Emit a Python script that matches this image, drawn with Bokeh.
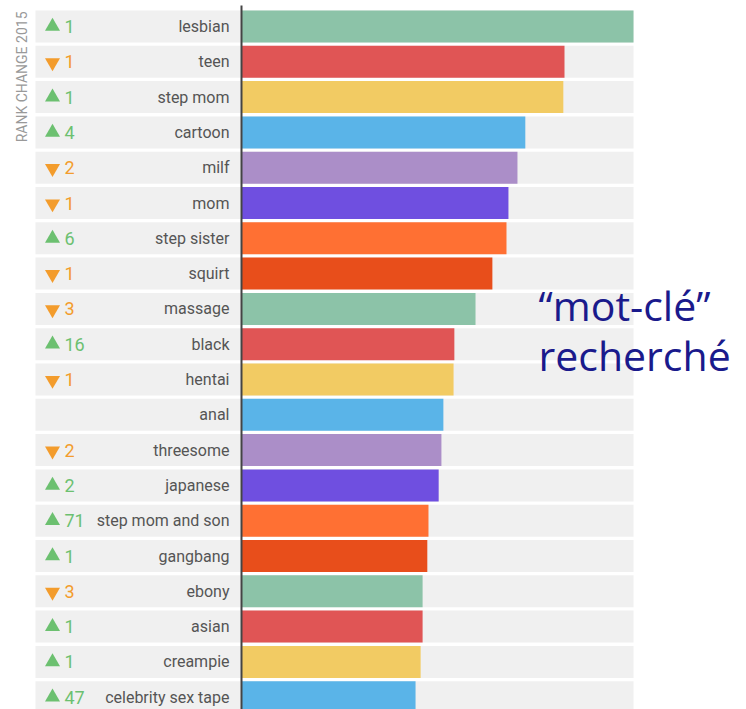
import math
from bokeh.plotting import figure
from bokeh.models import ColumnDataSource, Range1d
from bokeh.core.properties import value
from bokeh.embed import file_html
from bokeh.resources import INLINE

terms = ["lesbian", "teen", "step mom", "cartoon", "milf", "mom", "step sister",
         "squirt", "massage", "black", "hentai", "anal", "threesome", "japanese",
         "step mom and son", "gangbang", "ebony", "asian", "creampie",
         "celebrity sex tape"]
popularity = [100, 82.4, 82.1, 72.4, 70.4, 68.1, 67.6, 64.0, 59.7, 54.3, 54.1,
              51.5, 51.0, 50.3, 47.7, 47.4, 46.2, 46.2, 45.7, 44.4]
rank_change = [1, -1, 1, 4, -2, -1, 6, -1, -3, 16, -1, 0, -2, 2, 71, 1, -3, 1, 1, 47]
palette = ["#8cc3a8", "#e05555", "#f2cb63", "#5ab4e8", "#ab8ec8", "#6f4fe0",
           "#ff7033", "#e84e1b"]
axis_title = "RANK CHANGE 2015"
note_lines = ["\u201cmot-cl\u00e9\u201d", "recherch\u00e9"]

# pixel <-> data helpers (layout only)
W, H = 746, 709
ZERO_PX = 241
K = 100 / 392.0
PITCH = 35.3
ROW0 = 26.0

def xd(px):
    return (px - ZERO_PX) * K

def yd(py):
    return (py - ROW0) / PITCH

n = len(terms)
ys = list(range(n))
colors = [palette[i % len(palette)] for i in range(n)]

p = figure(width=W, height=H, output_backend="svg", toolbar_location=None,
           x_range=Range1d(xd(0), xd(W)), y_range=Range1d(yd(H), yd(0)),
           min_border=0, outline_line_color=None, background_fill_color="white",
           border_fill_color="white")
p.axis.visible = False
p.grid.visible = False

row_h = 32 / PITCH
# grey row backgrounds
p.hbar(y=ys, left=xd(35), right=100, height=row_h, fill_color="#f0f0f0",
       line_color=None)

src = ColumnDataSource(dict(y=ys, v=popularity, c=colors, t=terms))
p.hbar(y="y", left=0, right="v", height=row_h, fill_color="c", line_color=None,
       source=src)

# axis line
p.segment(x0=[0], y0=[yd(5)], x1=[0], y1=[yd(H + 20)], line_color="#444444",
          line_width=2)

# labels
p.text(x=xd(229), y="y", text="t", source=src, text_align="right",
       text_baseline="middle", text_font=value("Roboto"),
       text_font_size="16px", text_color="#555555")

# rank change markers and numbers
up_y = [i for i, r in enumerate(rank_change) if r > 0]
dn_y = [i for i, r in enumerate(rank_change) if r < 0]
p.scatter(x=xd(52), y=up_y, marker="triangle", size=15, fill_color="#6cc070",
          line_color=None)
p.scatter(x=xd(52), y=[v + 0.02 for v in dn_y], marker="inverted_triangle", size=15,
          fill_color="#f39c2c", line_color=None)
p.text(x=xd(64), y=up_y, text=[str(rank_change[i]) for i in up_y],
       text_align="left", text_baseline="middle", text_font=value("Roboto"),
       text_font_size="18px", text_color="#6cc070")
p.text(x=xd(64), y=dn_y, text=[str(-rank_change[i]) for i in dn_y],
       text_align="left", text_baseline="middle", text_font=value("Roboto"),
       text_font_size="18px", text_color="#f39c2c")

# vertical title
p.text(x=[xd(21)], y=[yd(11)], text=[axis_title], angle=math.pi / 2,
       text_align="right", text_baseline="middle", text_font=value("Roboto"),
       text_font_size="14px", text_color="#999999")

# annotation
p.text(x=[xd(538), xd(538)], y=[yd(304), yd(354)], text=note_lines,
       text_align="left", text_baseline="alphabetic",
       text_font=value("Open Sans"), text_font_size="41px", text_color="#1a1a8c")

open("out.html", "w").write(file_html(p, INLINE))
